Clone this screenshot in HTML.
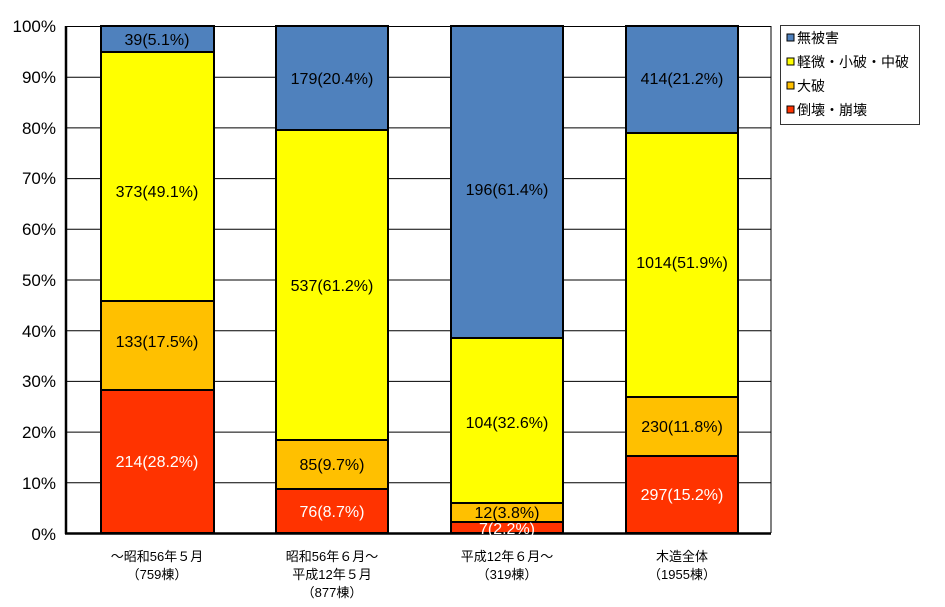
<!DOCTYPE html>
<html><head><meta charset="utf-8"><style>
body{margin:0;background:#fff;}
text{font-family:"Liberation Sans","Noto Sans CJK JP",sans-serif;}
</style></head><body>
<svg width="945" height="602" xmlns="http://www.w3.org/2000/svg">
<rect width="945" height="602" fill="#fff"/>
<g stroke="#000" stroke-width="1">
<line x1="66" x2="771" y1="26.5" y2="26.5"/>
<line x1="66" x2="771" y1="77.2" y2="77.2"/>
<line x1="66" x2="771" y1="127.9" y2="127.9"/>
<line x1="66" x2="771" y1="178.6" y2="178.6"/>
<line x1="66" x2="771" y1="229.3" y2="229.3"/>
<line x1="66" x2="771" y1="280" y2="280"/>
<line x1="66" x2="771" y1="330.7" y2="330.7"/>
<line x1="66" x2="771" y1="381.4" y2="381.4"/>
<line x1="66" x2="771" y1="432.1" y2="432.1"/>
<line x1="66" x2="771" y1="482.8" y2="482.8"/>
<line x1="771" x2="771" y1="26" y2="533"/>
</g>
<g font-size="17" text-anchor="end" fill="#000">
<text x="56" y="32">100%</text><text x="56" y="83">90%</text><text x="56" y="134">80%</text>
<text x="56" y="184">70%</text><text x="56" y="235">60%</text><text x="56" y="286">50%</text>
<text x="56" y="337">40%</text><text x="56" y="387">30%</text><text x="56" y="438">20%</text>
<text x="56" y="489">10%</text><text x="56" y="540">0%</text>
</g>
<g stroke="#000" stroke-width="2">
<rect x="101" y="390" width="113" height="143" fill="#ff3300"/>
<rect x="101" y="301" width="113" height="89" fill="#ffc000"/>
<rect x="101" y="52" width="113" height="249" fill="#ffff00"/>
<rect x="101" y="26" width="113" height="26" fill="#4f81bd"/>
<rect x="276" y="489" width="112" height="44" fill="#ff3300"/>
<rect x="276" y="440" width="112" height="49" fill="#ffc000"/>
<rect x="276" y="130" width="112" height="310" fill="#ffff00"/>
<rect x="276" y="26" width="112" height="104" fill="#4f81bd"/>
<rect x="451" y="522" width="112" height="11" fill="#ff3300"/>
<rect x="451" y="503" width="112" height="19" fill="#ffc000"/>
<rect x="451" y="338" width="112" height="165" fill="#ffff00"/>
<rect x="451" y="26" width="112" height="312" fill="#4f81bd"/>
<rect x="626" y="456" width="112" height="77" fill="#ff3300"/>
<rect x="626" y="397" width="112" height="59" fill="#ffc000"/>
<rect x="626" y="133" width="112" height="264" fill="#ffff00"/>
<rect x="626" y="26" width="112" height="107" fill="#4f81bd"/>
</g>
<g stroke="#000" stroke-width="2.5"><line x1="66" y1="26" x2="66" y2="534"/><line x1="65" y1="533.5" x2="771" y2="533.5"/></g>
<g font-size="16" text-anchor="middle">
<text x="157" y="45">39(5.1%)</text>
<text x="157" y="197">373(49.1%)</text>
<text x="157" y="347">133(17.5%)</text>
<text x="157" y="467" fill="#fff">214(28.2%)</text>
<text x="332" y="84">179(20.4%)</text>
<text x="332" y="291">537(61.2%)</text>
<text x="332" y="470">85(9.7%)</text>
<text x="332" y="517" fill="#fff">76(8.7%)</text>
<text x="507" y="195">196(61.4%)</text>
<text x="507" y="428">104(32.6%)</text>
<text x="507" y="518">12(3.8%)</text>
<text x="507" y="534" fill="#fff">7(2.2%)</text>
<text x="682" y="84">414(21.2%)</text>
<text x="682" y="268">1014(51.9%)</text>
<text x="682" y="432">230(11.8%)</text>
<text x="682" y="500" fill="#fff">297(15.2%)</text>
</g>
<g font-size="13" text-anchor="middle">
<text x="157" y="561">～昭和56年５月</text><text x="157" y="579">（759棟）</text>
<text x="332" y="561">昭和56年６月～</text><text x="332" y="579">平成12年５月</text><text x="332" y="597">（877棟）</text>
<text x="507" y="561">平成12年６月～</text><text x="507" y="579">（319棟）</text>
<text x="682" y="561">木造全体</text><text x="682" y="579">（1955棟）</text>
</g>
<rect x="780.5" y="25.5" width="139" height="99" fill="#fff" stroke="#333"/>
<g stroke="#000" stroke-width="1">
<rect x="787" y="34" width="7" height="7" fill="#4f81bd"/>
<rect x="787" y="58" width="7" height="7" fill="#ffff00"/>
<rect x="787" y="82" width="7" height="7" fill="#ffc000"/>
<rect x="787" y="106" width="7" height="7" fill="#ff3300"/>
</g>
<g font-size="14">
<text x="797" y="43">無被害</text>
<text x="797" y="67">軽微・小破・中破</text>
<text x="797" y="91">大破</text>
<text x="797" y="115">倒壊・崩壊</text>
</g>
</svg>
</body></html>
